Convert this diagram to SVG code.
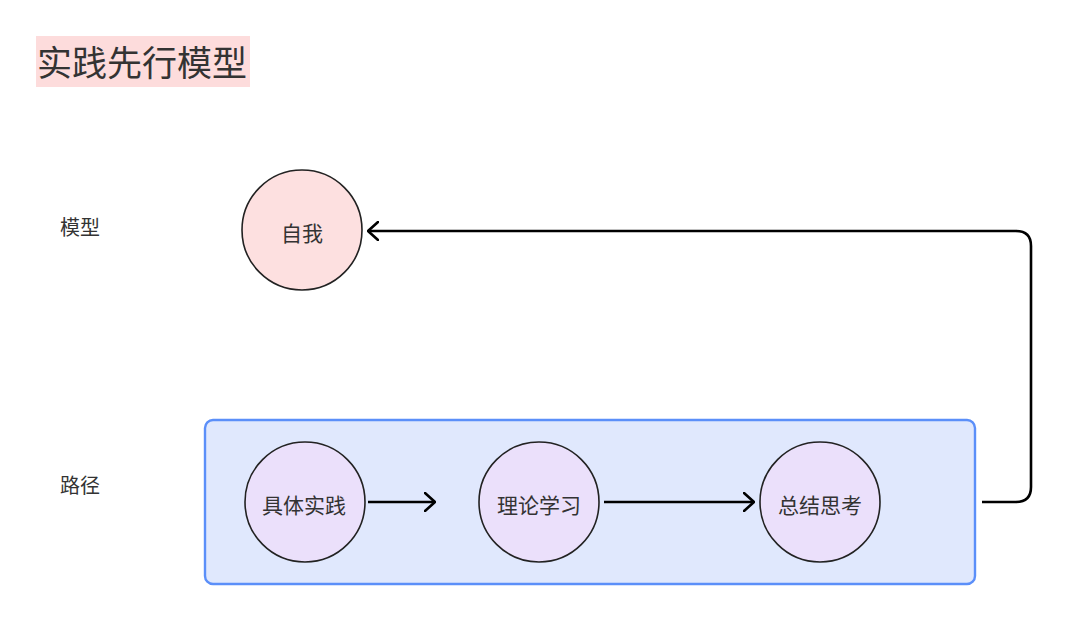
<svg xmlns="http://www.w3.org/2000/svg" width="1080" height="624" viewBox="0 0 1080 624">
<defs>
<style>
.t{font-family:"Noto Sans CJK SC","Noto Sans",sans-serif;fill:#333;}
.lbl{font-size:20px;}
.nt{font-size:21px;text-anchor:middle;dominant-baseline:central;}
.pink{fill:#fde0e0;stroke:#222;stroke-width:1.6;}
.purp{fill:#ebe0fb;stroke:#222;stroke-width:1.6;}
.conn{fill:none;stroke:#000;stroke-width:2.6;}
</style>
<marker id="arr" viewBox="0 0 12 20" refX="11" refY="10" markerWidth="12" markerHeight="20" markerUnits="userSpaceOnUse" orient="auto">
<path d="M1,1 L11,10 L1,19" fill="none" stroke="#000" stroke-width="2.6" stroke-linecap="round" stroke-linejoin="round"/>
</marker>
</defs>
<rect width="1080" height="624" fill="#fff"/>
<g id="title">
<rect x="36" y="36" width="214" height="51" fill="#fddcdc"/>
<text class="t" x="37" y="76" font-size="35" fill="#222">实践先行模型</text>
</g>
<g id="label-model"><text class="t lbl" x="60" y="235">模型</text></g>
<g id="label-path"><text class="t lbl" x="60" y="493">路径</text></g>
<g id="path-container">
<rect x="205" y="420" width="770" height="164" rx="8" fill="#e0e8fd" stroke="#5b8ff9" stroke-width="2.4"/>
</g>
<g id="node-self">
<circle class="pink" cx="302" cy="230" r="60"/>
<text class="t nt" x="302" y="232">自我</text>
</g>
<g id="node-practice">
<circle class="purp" cx="305" cy="502" r="60"/>
<text class="t nt" x="304" y="504">具体实践</text>
</g>
<g id="node-theory">
<circle class="purp" cx="539" cy="502" r="60"/>
<text class="t nt" x="539" y="504">理论学习</text>
</g>
<g id="node-summary">
<circle class="purp" cx="820" cy="502" r="60"/>
<text class="t nt" x="820" y="504">总结思考</text>
</g>
<g id="connectors">
<line class="conn" x1="368" y1="502" x2="435" y2="502" marker-end="url(#arr)"/>
<line class="conn" x1="604" y1="502" x2="754" y2="502" marker-end="url(#arr)"/>
<path class="conn" d="M982,502 L1016,502 Q1031,502 1031,487 L1031,246 Q1031,231 1016,231 L368,231" marker-end="url(#arr)"/>
</g>
</svg>
